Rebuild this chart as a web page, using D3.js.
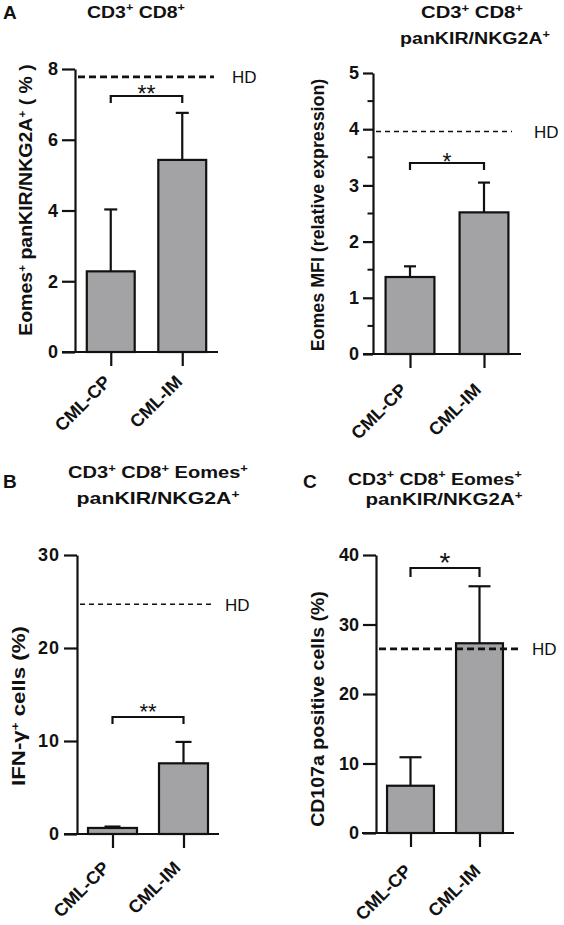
<!DOCTYPE html>
<html>
<head>
<meta charset="utf-8">
<script src="https://cdn.jsdelivr.net/npm/d3@7"></script>
<style>
  html, body { margin: 0; padding: 0; background: #fff; }
  svg { display: block; font-family: "Liberation Sans", Arial, sans-serif; }
</style>
</head>
<body>
<svg id="chart" width="564" height="925"></svg>
<script>
// ---------------- DATA ----------------
const categories = ["CML-CP", "CML-IM"];

// Panel A (left): Eomes+ panKIR/NKG2A+ (%)
const aLeftMeans = [2.28, 5.43];
const aLeftSD    = [1.75, 1.33];
const aLeftHD    = 7.78;
const aLeftTicks = [0, 2, 4, 6, 8];

// Panel A (right): Eomes MFI (relative expression)
const aRightMeans = [1.37, 2.52];
const aRightSD    = [0.19, 0.53];
const aRightHD    = 3.96;
const aRightTicks = [0, 1, 2, 3, 4, 5];
const aRightMinor = [0.5, 1.5, 2.5, 3.5, 4.5];

// Panel B: IFN-γ+ cells (%)
const bMeans = [0.65, 7.6];
const bSD    = [0.15, 2.3];
const bHD    = 24.7;
const bTicks = [0, 10, 20, 30];

// Panel C: CD107a positive cells (%)
const cMeans = [6.8, 27.3];
const cSD    = [4.1, 8.2];
const cHD    = 26.5;
const cTicks = [0, 10, 20, 30, 40];

// Significance labels
const sigLabels = ["**", "*", "**", "*"];

// ---------------- LAYOUT ----------------
const svg = d3.select("#chart");
const FONT = "'Liberation Sans', Arial, sans-serif";

// widen a text element horizontally (along its baseline) to a target length
function fitScale(sel, target, base) {
  const n = sel.node().getComputedTextLength();
  const sx = target / n;
  sel.attr("transform", `${base} scale(${sx.toFixed(3)},1)`);
}

function drawPanel(o) {
  const g = svg.append("g");
  const y = d3.scaleLinear().domain([0, o.max]).range([o.y0, o.yTop]);
  const x = d3.scalePoint().domain(categories).range([o.axisX, o.xEnd]).padding(0.5);
  const bw = x.step() * o.barFrac;

  // y axis
  const yAxis = d3.axisLeft(y).tickValues(o.ticks).tickSize(o.tickLen).tickSizeOuter(0).tickPadding(4)
    .tickFormat(d3.format("d"));
  const ya = g.append("g").attr("transform", `translate(${o.axisX},0)`).call(yAxis);
  ya.select(".domain").attr("stroke-width", 2.2).attr("stroke", "#111");
  ya.selectAll(".tick line").attr("stroke-width", 2.2).attr("stroke", "#111");
  ya.selectAll(".tick text").attr("font-size", 18).attr("font-weight", "bold")
    .attr("font-family", FONT).attr("fill", "#111").attr("letter-spacing", o.tickLS || 0);
  if (o.minor) {
    g.selectAll(".minor").data(o.minor).enter().append("line")
      .attr("x1", o.axisX - o.tickLen * 0.55).attr("x2", o.axisX)
      .attr("y1", d => y(d)).attr("y2", d => y(d))
      .attr("stroke", "#111").attr("stroke-width", 2);
  }

  // bars
  g.selectAll(".bar").data(o.means).enter().append("rect")
    .attr("x", (d, i) => x(categories[i]) - bw / 2)
    .attr("y", d => y(d))
    .attr("width", bw)
    .attr("height", d => y(0) - y(d))
    .attr("fill", "#a3a3a6").attr("stroke", "#111").attr("stroke-width", 2.2);

  // error bars
  o.means.forEach((m, i) => {
    const cx = x(categories[i]);
    g.append("line").attr("x1", cx).attr("x2", cx).attr("y1", y(m)).attr("y2", y(m + o.sd[i]))
      .attr("stroke", "#111").attr("stroke-width", 2.2);
    g.append("line").attr("x1", cx - o.cap / 2).attr("x2", cx + o.cap / 2)
      .attr("y1", y(m + o.sd[i])).attr("y2", y(m + o.sd[i]))
      .attr("stroke", "#111").attr("stroke-width", 2.2);
  });

  // x axis
  g.append("line").attr("x1", o.xLeft).attr("x2", o.xEnd).attr("y1", o.y0).attr("y2", o.y0)
    .attr("stroke", "#111").attr("stroke-width", 2.2);
  const xAxis = d3.axisBottom(x).tickSize(14).tickSizeOuter(0).tickFormat("");
  const xa = g.append("g").attr("transform", `translate(0,${o.y0})`).call(xAxis);
  xa.select(".domain").remove();
  xa.selectAll(".tick line").attr("stroke", "#111").attr("stroke-width", 2.2);
  g.selectAll(".xlab").data(categories).enter().append("text")
    .attr("transform", d => `translate(${x(d) + o.xlDx},${o.y0 + o.xlDy}) rotate(-45)`)
    .attr("text-anchor", "end").attr("font-size", 18).attr("font-weight", "bold")
    .attr("font-family", FONT).attr("fill", "#111").text(d => d);

  // HD line
  g.append("line").attr("x1", o.axisX + 3).attr("x2", o.hdEnd)
    .attr("y1", y(o.hd)).attr("y2", y(o.hd))
    .attr("stroke", "#111").attr("stroke-width", o.hdW).attr("stroke-dasharray", o.hdDash);
  g.append("text").attr("x", o.hdX).attr("y", y(o.hd) + 6.5)
    .attr("font-size", 17).attr("font-family", FONT).attr("fill", "#111").text("HD");

  // significance bracket
  const bx1 = x(categories[0]), bx2 = x(categories[1]);
  g.append("path")
    .attr("d", `M${bx1},${o.brY + o.brDrop}V${o.brY}H${bx2}V${o.brY + o.brDrop}`)
    .attr("fill", "none").attr("stroke", "#111").attr("stroke-width", 2.2);
  g.append("text").attr("x", (bx1 + bx2) / 2).attr("y", o.starY)
    .attr("text-anchor", "middle").attr("font-size", o.starSize).attr("font-family", FONT)
    .attr("fill", "#111").text(o.sig);

  // y label
  const yl = g.append("text")
    .attr("text-anchor", "middle").attr("font-size", o.ylSize).attr("font-weight", "bold")
    .attr("font-family", FONT).attr("fill", "#111");
  o.ylParts.forEach(p => {
    const t = yl.append("tspan").text(p.t);
    if (p.sup) t.attr("baseline-shift", "super").attr("font-size", o.ylSize * 0.6);
  });
  fitScale(yl, o.ylLen, `translate(${o.ylX},${o.ylY}) rotate(-90)`);

  // title
  o.title.forEach(line => {
    const t = g.append("text").attr("text-anchor", "middle")
      .attr("font-size", 17).attr("font-weight", "bold").attr("font-family", FONT).attr("fill", "#111");
    line.parts.forEach(p => {
      const s = t.append("tspan").text(p.t);
      if (p.sup) s.attr("baseline-shift", "super").attr("font-size", 11);
    });
    fitScale(t, line.len, `translate(${line.x},${line.y})`);
  });
}

// Panel letters
[["A", 3, 19], ["B", 3, 488], ["C", 303, 488]].forEach(([t, px, py]) => {
  svg.append("text").attr("x", px).attr("y", py).attr("font-size", 19).attr("font-weight", "bold")
    .attr("font-family", FONT).attr("fill", "#111").text(t);
});

const line1 = [{t: "CD3"}, {t: "+", sup: true}, {t: " CD8"}, {t: "+", sup: true}];
const line1E = [{t: "CD3"}, {t: "+", sup: true}, {t: " CD8"}, {t: "+", sup: true}, {t: " Eomes"}, {t: "+", sup: true}];
const line2 = [{t: "panKIR/NKG2A"}, {t: "+", sup: true}];

drawPanel({
  means: aLeftMeans, sd: aLeftSD, hd: aLeftHD, ticks: aLeftTicks, max: 8,
  axisX: 75, xEnd: 218, xLeft: 62, y0: 352, yTop: 69, tickLen: 13, barFrac: 0.67, cap: 13,
  xlDx: 1, xlDy: 31,
  hdEnd: 214, hdX: 232, hdW: 2.8, hdDash: "7,4",
  brY: 96, brDrop: 7, starY: 102, starSize: 23, sig: sigLabels[0],
  ylX: 32, ylY: 200, ylSize: 18, ylLen: 272,
  ylParts: [{t: "Eomes"}, {t: "+", sup: true}, {t: " panKIR/NKG2A"}, {t: "+", sup: true}, {t: " ( % )"}],
  title: [{x: 136, y: 18, len: 98, parts: line1}]
});

drawPanel({
  means: aRightMeans, sd: aRightSD, hd: aRightHD, ticks: aRightTicks, max: 5, minor: aRightMinor,
  axisX: 373, xEnd: 521, xLeft: 363, y0: 354, yTop: 73, tickLen: 10, barFrac: 0.66, cap: 12,
  xlDx: -2, xlDy: 37,
  hdEnd: 512, hdX: 534, hdW: 1.6, hdDash: "5,4",
  brY: 163, brDrop: 7, starY: 170, starSize: 23, sig: sigLabels[1],
  ylX: 324, ylY: 215, ylSize: 18, ylLen: 273,
  ylParts: [{t: "Eomes MFI (relative expression)"}],
  title: [{x: 472, y: 18, len: 102, parts: line1}, {x: 475, y: 44, len: 150, parts: line2}]
});

drawPanel({
  means: bMeans, sd: bSD, hd: bHD, ticks: bTicks, max: 30,
  axisX: 77, xEnd: 219, xLeft: 64, y0: 834, yTop: 555, tickLen: 13, barFrac: 0.69, cap: 16, tickLS: 1,
  xlDx: -2, xlDy: 35,
  hdEnd: 215, hdX: 225, hdW: 1.6, hdDash: "5,4",
  brY: 717, brDrop: 7, starY: 719, starSize: 22, sig: sigLabels[2],
  ylX: 25, ylY: 706, ylSize: 18, ylLen: 160,
  ylParts: [{t: "IFN-γ"}, {t: "+", sup: true}, {t: " cells (%)"}],
  title: [{x: 158, y: 478, len: 180, parts: line1E}, {x: 158, y: 504, len: 163, parts: line2}]
});

drawPanel({
  means: cMeans, sd: cSD, hd: cHD, ticks: cTicks, max: 40,
  axisX: 376, xEnd: 514, xLeft: 362, y0: 833, yTop: 555, tickLen: 13, barFrac: 0.68, cap: 22,
  xlDx: 2, xlDy: 39,
  hdEnd: 521, hdX: 532, hdW: 2.8, hdDash: "7,4",
  brY: 568, brDrop: 9, starY: 572, starSize: 28, sig: sigLabels[3],
  ylX: 324, ylY: 709, ylSize: 18, ylLen: 236,
  ylParts: [{t: "CD107a positive cells (%)"}],
  title: [{x: 435, y: 485, len: 174, parts: line1E}, {x: 444, y: 505, len: 157, parts: line2}]
});
</script>
</body>
</html>
